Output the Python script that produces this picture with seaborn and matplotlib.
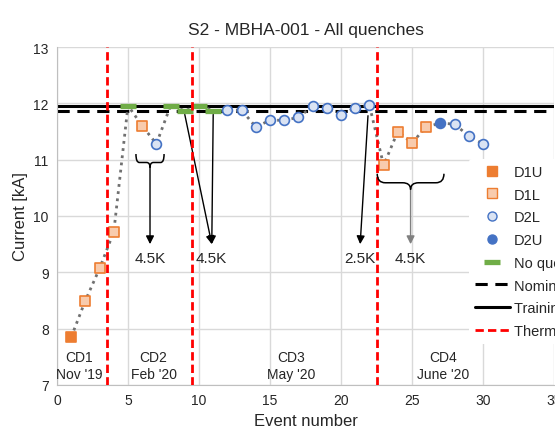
import numpy as np
import pandas as pd
import matplotlib
matplotlib.use("Agg")
import matplotlib.pyplot as plt
from matplotlib.path import Path
from matplotlib.patches import PathPatch
from matplotlib.lines import Line2D
import seaborn as sb

sb.set_style("white")
plt.rcParams['font.family'] = ['Liberation Sans', 'DejaVu Sans']

# podaci
events = list(range(1, 31))
current = [7.85, 8.50, 9.07, 9.72, 11.96, 11.60, 11.28, 11.96, 11.87, 11.96,
           11.87, 11.88, 11.88, 11.58, 11.70, 11.70, 11.75, 11.95, 11.92, 11.80,
           11.92, 11.97, 10.90, 11.50, 11.30, 11.58, 11.65, 11.63, 11.42, 11.28]
qtype = ['D1U', 'D1L', 'D1L', 'D1L', 'NQ', 'D1L', 'D2L', 'NQ', 'NQ', 'NQ',
         'NQ', 'D2L', 'D2L', 'D2L', 'D2L', 'D2L', 'D2L', 'D2L', 'D2L', 'D2L',
         'D2L', 'D2L', 'D1L', 'D1L', 'D1L', 'D1L', 'D2U', 'D2L', 'D2L', 'D2L']
nominal = 11.87
training = 11.95
thermal_cycles = [3.5, 9.5, 22.5]
cd_names = ['CD1', 'CD2', 'CD3', 'CD4']
cd_dates = ["Nov '19", "Feb '20", "May '20", "June '20"]
cd_x = [1.55, 6.8, 16.5, 27.2]

df = pd.DataFrame({'event': events, 'current': current, 'type': qtype})

fig = plt.figure(figsize=(5.55, 4.39), dpi=100)
ax = fig.add_axes([57/555, 1 - 386/439, 497/555, 338/439])

# isprekidana linija kroz sve tacke
sb.lineplot(data=df, x='event', y='current', sort=False, ax=ax, color='#707070',
            linestyle=(0, (1, 1.6)), linewidth=2, zorder=2)

stil = {
    'D1U': dict(marker='s', color='#ED7D31', edgecolor='#ED7D31', s=55),
    'D1L': dict(marker='s', color='#F8CBAD', edgecolor='#ED7D31', s=55),
    'D2L': dict(marker='o', color='#DAE3F3', edgecolor='#4472C4', s=50),
    'D2U': dict(marker='o', color='#4472C4', edgecolor='#4472C4', s=50),
}
for t, st in stil.items():
    sub = df[df['type'] == t]
    sb.scatterplot(data=sub, x='event', y='current', ax=ax, linewidth=1.2, zorder=4, **st)
sub = df[df['type'] == 'NQ']
sb.scatterplot(data=sub, x='event', y='current', ax=ax, marker='_', s=140,
               linewidth=3.8, color='#70AD47', zorder=3)

ax.axhline(nominal, color='black', linestyle=(0, (4, 2.5)), linewidth=2.2, zorder=1)
ax.axhline(training, color='black', linewidth=2.2, zorder=1)
for xc in thermal_cycles:
    ax.axvline(xc, color='#FF0000', linestyle=(0, (3, 1.5)), linewidth=2, zorder=5)

for n, d, xc in zip(cd_names, cd_dates, cd_x):
    ax.text(xc, 7.5, n, ha='center', va='center', fontsize=10)
    ax.text(xc, 7.2, d, ha='center', va='center', fontsize=10)


def viticasta(x0, x1, yt, ym, yb, color='black'):
    xc = (x0 + x1) / 2
    dx = (x1 - x0) * 0.12
    codes = [Path.MOVETO, Path.CURVE3, Path.CURVE3, Path.LINETO, Path.CURVE3, Path.CURVE3,
             Path.MOVETO, Path.CURVE3, Path.CURVE3, Path.LINETO, Path.CURVE3, Path.CURVE3]
    verts = [(x0, yt), (x0, ym), (x0 + dx, ym), (xc - dx, ym), (xc, ym), (xc, yb),
             (xc, yb), (xc, ym), (xc + dx, ym), (x1 - dx, ym), (x1, ym), (x1, yt)]
    ax.add_patch(PathPatch(Path(verts, codes), fill=False, edgecolor=color, linewidth=1.1, zorder=5))
    return xc


strel = dict(arrowstyle='-|>', color='black', linewidth=1.0, mutation_scale=12, shrinkA=0, shrinkB=0)

xc = viticasta(5.56, 7.54, 11.10, 10.95, 10.86)
ax.annotate('', xy=(xc, 9.50), xytext=(xc, 10.86), arrowprops=strel)
ax.text(xc, 9.25, '4.5K', ha='center', va='center', fontsize=11)

ax.annotate('', xy=(10.9, 9.50), xytext=(9.0, 11.80), arrowprops=strel)
ax.annotate('', xy=(10.9, 9.50), xytext=(11.0, 11.80), arrowprops=strel)
ax.text(10.85, 9.25, '4.5K', ha='center', va='center', fontsize=11)

ax.annotate('', xy=(21.35, 9.50), xytext=(21.9, 11.78), arrowprops=strel)
ax.text(21.3, 9.25, '2.5K', ha='center', va='center', fontsize=11)

xc = viticasta(22.55, 27.25, 10.75, 10.59, 10.47)
strel2 = dict(strel, color='#808080')
ax.annotate('', xy=(xc, 9.50), xytext=(xc, 10.47), arrowprops=strel2)
ax.text(xc, 9.25, '4.5K', ha='center', va='center', fontsize=11)

ax.set_xlim(0, 35)
ax.set_ylim(7, 13)
ax.set_xticks(range(0, 36, 5))
ax.set_yticks(range(7, 14))
ax.grid(True, color='#D9D9D9', linewidth=1)
for s in ['top', 'right']:
    ax.spines[s].set_visible(False)
for s in ['left', 'bottom']:
    ax.spines[s].set_color('#BFBFBF')
ax.tick_params(labelsize=10, length=0, pad=6)
ax.set_xlabel('Event number', fontsize=12)
ax.set_ylabel('Current [kA]', fontsize=12)
ax.set_title('S2 - MBHA-001 - All quenches', fontsize=12.5, pad=9)

handles = [
    Line2D([], [], linestyle='none', marker='s', ms=6.5, mfc='#ED7D31', mec='#ED7D31'),
    Line2D([], [], linestyle='none', marker='s', ms=6.5, mfc='#F8CBAD', mec='#ED7D31'),
    Line2D([], [], linestyle='none', marker='o', ms=6.5, mfc='#DAE3F3', mec='#4472C4'),
    Line2D([], [], linestyle='none', marker='o', ms=6.5, mfc='#4472C4', mec='#4472C4'),
    Line2D([], [], linestyle='none', marker='_', ms=11, mew=3.8, color='#70AD47'),
    Line2D([], [], color='black', linestyle=(0, (4, 2.5)), linewidth=2.2),
    Line2D([], [], color='black', linewidth=2.2),
    Line2D([], [], color='#FF0000', linestyle=(0, (3, 1.5)), linewidth=2),
]
labels = ['D1U', 'D1L', 'D2L', 'D2U', 'No quench', 'Nominal current',
          'Training current', 'Thermal cycle']
leg = ax.legend(handles, labels, loc='upper left', bbox_to_anchor=(469/555, 1 - 160/439),
                bbox_transform=fig.transFigure, fontsize=10.5, frameon=True,
                facecolor='white', edgecolor='none', framealpha=1, borderaxespad=0,
                handlelength=2.4, handletextpad=0.3, labelspacing=0.6, borderpad=0.4)
leg.set_zorder(10)

fig.savefig('out.png', dpi=100)
